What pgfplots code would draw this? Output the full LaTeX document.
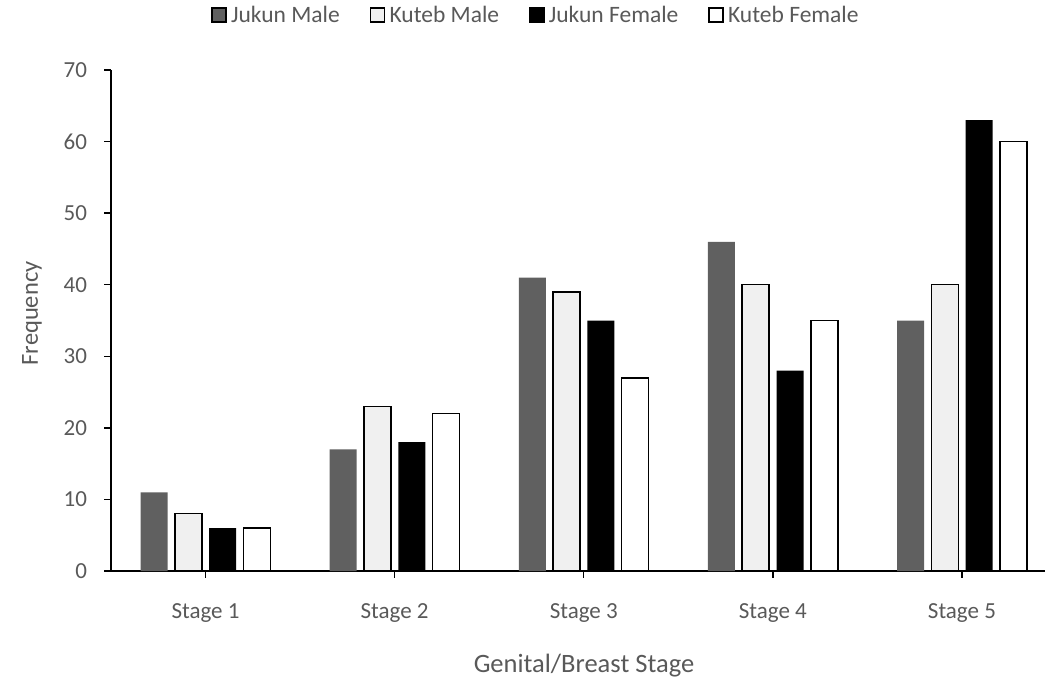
\documentclass[border=0pt]{standalone}
\usepackage{pgfplots}
\pgfplotsset{compat=1.18}
\usepackage{fontspec}
\setmainfont{Carlito}
\definecolor{txt}{HTML}{595959}
\definecolor{jm}{HTML}{606060}
\definecolor{km}{HTML}{F0F0F0}
\begin{document}
\begin{tikzpicture}[x=1pt,y=1pt]
\begin{axis}[
  scale only axis,
  width=934pt, height=501pt,
  at={(0pt,0pt)}, anchor=south west,
  xmin=-0.5, xmax=4.4392,
  ymin=0, ymax=70,
  ytick={0,10,...,70},
  xtick={0,1,2,3,4},
  xticklabels={Stage 1,Stage 2,Stage 3,Stage 4,Stage 5},
  axis x line=bottom, axis y line=left,
  axis line style={-, line width=1.3pt, black},
  tick style={line width=1.3pt, black},
  xtick align=outside, ytick align=outside,
  major tick length=6.5pt,
  ymajorgrids=false,
  /pgf/number format/assume math mode=true,
  ticklabel style={font=\fontsize{23}{27}\selectfont, text=txt},
  yticklabel style={xshift=-14pt},
  xticklabel style={yshift=-23pt},
  xlabel={Genital/Breast Stage},
  ylabel={Frequency},
  xlabel style={font=\fontsize{26.5}{30}\selectfont, text=txt, yshift=-24pt, xshift=6pt},
  ylabel style={font=\fontsize{24.5}{28}\selectfont, text=txt, yshift=15pt, xshift=7pt},
  ybar, bar width=27pt,
  legend style={at={(0.455,1.110)}, anchor=center, draw=none, legend columns=4,
    font=\fontsize{23.5}{27}\selectfont, text=txt,
    /tikz/every even column/.append style={column sep=28pt}},
  legend image code/.code={\draw[#1, line width=1.5pt] (0pt,-7pt) rectangle (14pt,7pt);
    \path[draw=none, fill=none] (0pt,0pt) -- (17pt,0pt);},
]
\addplot[fill=jm, draw=none, bar shift=-51.45pt] coordinates {(0,11) (1,17) (2,41) (3,46) (4,35)};
\addplot[fill=km, draw=black, line width=1.5pt, bar shift=-17.15pt] coordinates {(0,8) (1,23) (2,39) (3,40) (4,40)};
\addplot[fill=black, draw=none, bar shift=17.15pt] coordinates {(0,6) (1,18) (2,35) (3,28) (4,63)};
\addplot[fill=white, draw=black, line width=1.5pt, bar shift=51.45pt] coordinates {(0,6) (1,22) (2,27) (3,35) (4,60)};
\legend{Jukun Male, Kuteb Male, Jukun Female, Kuteb Female}
\end{axis}
\pgfresetboundingbox
\path[use as bounding box] (-111,-107) rectangle (934,571);
\end{tikzpicture}
\end{document}
